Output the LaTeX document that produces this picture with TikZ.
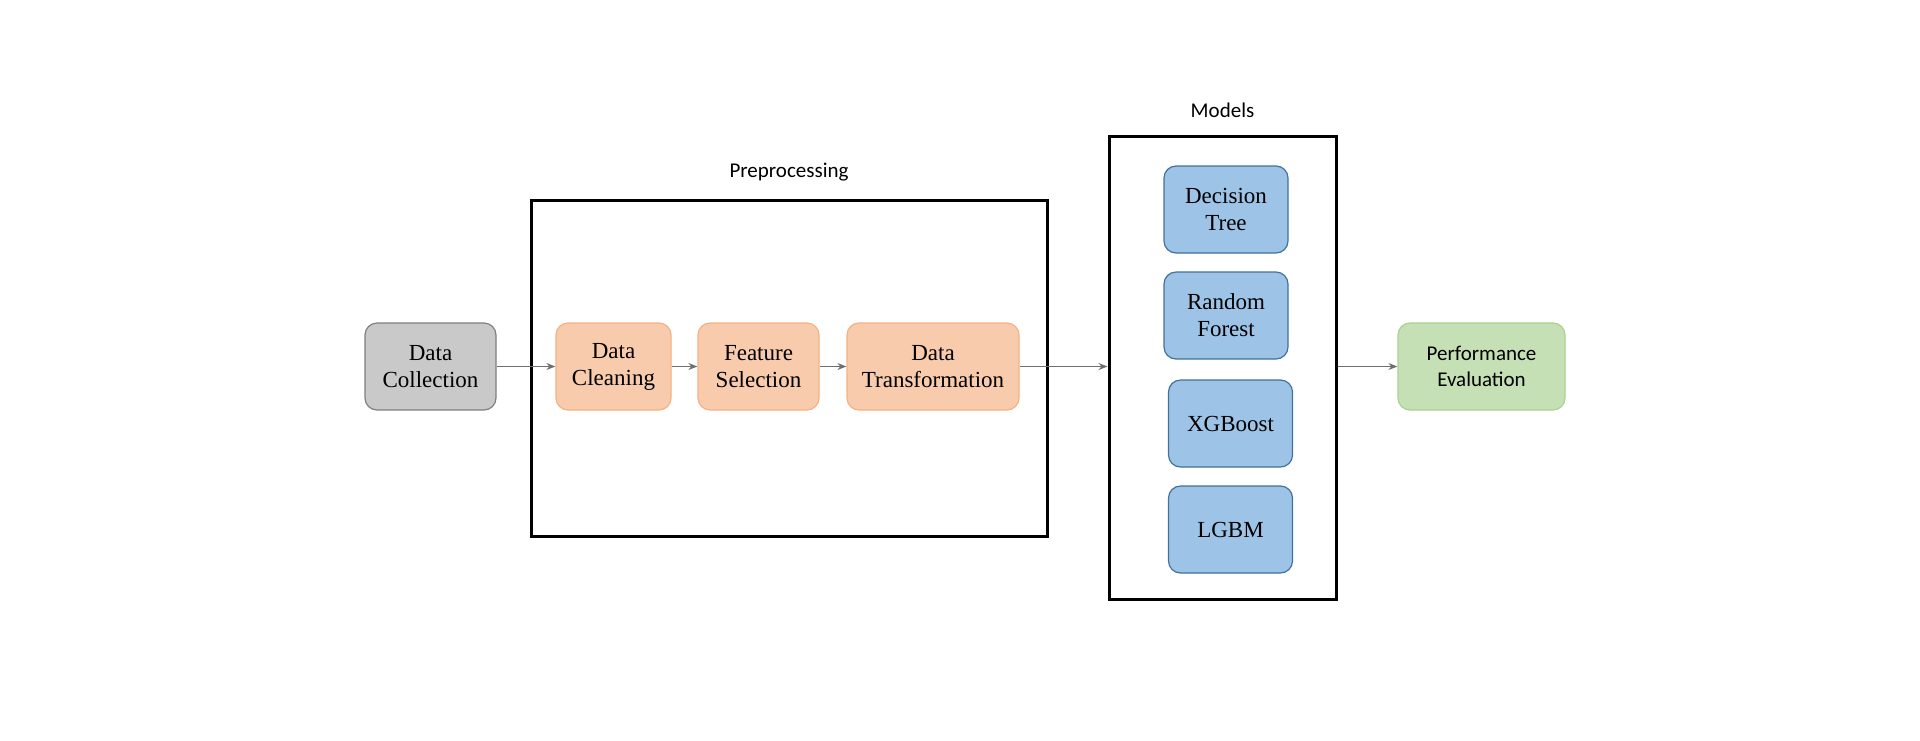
\documentclass[tikz,border=0pt]{standalone}
\usepackage{fontspec}
\setmainfont{Liberation Serif}
\newfontfamily\labelfont{Carlito}
\usetikzlibrary{arrows.meta}
\definecolor{collfill}{HTML}{C9C9C9}
\definecolor{colldraw}{HTML}{7F7F7F}
\definecolor{prepfill}{HTML}{F8CBAD}
\definecolor{prepdraw}{HTML}{F4B183}
\definecolor{modelfill}{HTML}{9DC3E6}
\definecolor{modeldraw}{HTML}{41719C}
\definecolor{evalfill}{HTML}{C5E0B4}
\definecolor{evaldraw}{HTML}{A9D18E}
\definecolor{flowgray}{HTML}{6F6F6F}

\begin{document}
\begin{tikzpicture}[x=0.5pt, y=-0.5pt,
    stage/.style={draw, rounded corners=6pt, line width=0.6pt, minimum height=43.5pt,
      align=center, inner sep=2pt, font=\fontsize{11.5}{13.5}\selectfont},
    frame/.style={draw, line width=1.5pt, inner sep=0pt},
    title/.style={font=\labelfont\fontsize{10.5}{12.5}\selectfont},
    flow/.style={flowgray, line width=0.6pt, -{Stealth[length=4.5pt, width=3.5pt]}}]
  \useasboundingbox (0,0) rectangle (1920,740);

  % frames around the two groups
  \node[frame, minimum width=258pt, minimum height=168pt] (prep) at (789,368) {};
  \node[title, anchor=south] (preplabel) at ([yshift=5pt]prep.north) {Preprocessing};
  \node[frame, minimum width=113.5pt, minimum height=231.5pt] (models) at (1222.5,367.5) {};
  \node[title, anchor=south] (modelslabel) at ([yshift=5pt]models.north) {Models};

  % pipeline stages
  \node[stage, fill=collfill, draw=colldraw, minimum width=65.5pt] (coll) at (430.5,366.5) {Data\\Collection};
  \node[stage, fill=prepfill, draw=prepdraw, minimum width=57.5pt] (clean) at (613.5,366.5) {Data\\Cleaning};
  \node[stage, fill=prepfill, draw=prepdraw, minimum width=60.5pt] (feat) at (758.5,366.5) {Feature\\Selection};
  \node[stage, fill=prepfill, draw=prepdraw, minimum width=86pt] (trans) at (933,366.5) {Data\\Transformation};

  % models
  \node[stage, fill=modelfill, draw=modeldraw, minimum width=62pt] (dtree) at (1226,209.5) {Decision\\Tree};
  \node[stage, fill=modelfill, draw=modeldraw, minimum width=62pt] (rforest) at (1226,315.5) {Random\\Forest};
  \node[stage, fill=modelfill, draw=modeldraw, minimum width=62pt] (xgb) at (1230.5,423.5) {XGBoost};
  \node[stage, fill=modelfill, draw=modeldraw, minimum width=62pt] (lgbm) at (1230.5,529.5) {LGBM};

  \node[stage, fill=evalfill, draw=evaldraw, minimum width=83.5pt,
    font=\labelfont\fontsize{10.5}{13}\selectfont] (perf) at (1481.5,366.5) {Performance\\Evaluation};

  % connectors
  \draw[flow] (coll) -- (clean);
  \draw[flow] (clean) -- (feat);
  \draw[flow] (feat) -- (trans);
  \draw[flow] (trans.east) -- (trans.east -| models.west);
  \draw[flow] (models.east |- perf.west) -- (perf.west);
\end{tikzpicture}
\end{document}
